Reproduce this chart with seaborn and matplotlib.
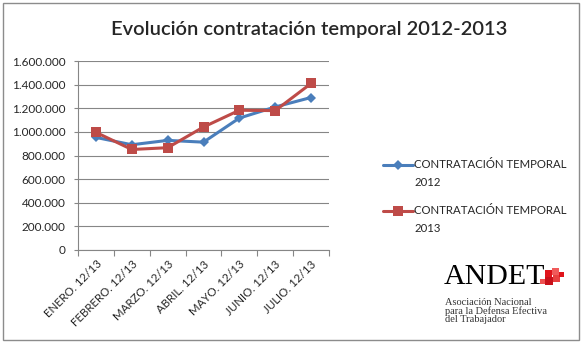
import matplotlib
matplotlib.use("Agg")
import matplotlib.pyplot as plt
import seaborn as sns
import pandas as pd
from matplotlib.patches import Rectangle
from matplotlib.ticker import FuncFormatter, FixedLocator

categories = ["ENERO. 12/13", "FEBRERO. 12/13", "MARZO. 12/13", "ABRIL. 12/13",
              "MAYO. 12/13", "JUNIO. 12/13", "JULIO. 12/13"]
serie_2012 = [953000, 891000, 928000, 913000, 1117000, 1211000, 1291000]
serie_2013 = [996000, 851000, 866000, 1041000, 1183000, 1180000, 1410000]
series_label = "CONTRATACIÓN TEMPORAL"
series_years = ["2012", "2013"]
yticks = [0, 200000, 400000, 600000, 800000, 1000000, 1200000, 1400000, 1600000]

sns.set_theme(style="white")
plt.rcParams["font.family"] = ["Lato", "DejaVu Sans"]

names = [f"{series_label} {y}" for y in series_years]
df = pd.DataFrame({
    "mes": list(range(len(categories))) * 2,
    "valor": serie_2012 + serie_2013,
    "serie": [names[0]] * len(categories) + [names[1]] * len(categories),
})

fig = plt.figure(figsize=(5.84, 3.47), dpi=100)
ax = fig.add_axes([78 / 584, 1 - 250 / 347, (329 - 78) / 584, (250 - 61) / 347])

palette = {names[0]: "#4A7EBB", names[1]: "#BE4B48"}
markers = {names[0]: "D", names[1]: "s"}
sns.lineplot(data=df, x="mes", y="valor", hue="serie", style="serie",
             palette=palette, markers=markers, dashes=False, linewidth=2.2,
             markersize=6.5, markeredgewidth=0, ax=ax, legend=True)
for line in ax.lines:
    if line.get_marker() == "D":
        line.set_markersize(5)
    else:
        line.set_markersize(7)

ax.set_xlim(-0.5, len(categories) - 0.5)
ax.set_ylim(0, 1600000)
ax.set_yticks(yticks)
ax.yaxis.set_major_formatter(FuncFormatter(lambda v, p: f"{int(v):,}".replace(",", ".")))
ax.set_xticks(range(len(categories)))
ax.set_xticklabels(categories, rotation=45, ha="right", rotation_mode="anchor", fontsize=8.3)
ax.xaxis.set_minor_locator(FixedLocator([i - 0.5 for i in range(len(categories) + 1)]))
ax.tick_params(axis="x", which="major", length=0, pad=6)
ax.tick_params(axis="x", which="minor", length=4, width=0.8, color="#868686", direction="out", bottom=True)
ax.tick_params(axis="y", labelsize=8.5, length=3, width=0.8, color="#868686", left=True, pad=6)
ax.grid(axis="y", color="#868686", linewidth=0.8)
ax.set_axisbelow(True)
for s in ["top", "right"]:
    ax.spines[s].set_visible(False)
for s in ["left", "bottom"]:
    ax.spines[s].set_color("#868686")
    ax.spines[s].set_linewidth(0.8)
ax.set_xlabel("")
ax.set_ylabel("")

handles, labels = ax.get_legend_handles_labels()
ax.get_legend().remove()
for i, (h, yr, ypix) in enumerate(zip(handles, series_years, [165, 211])):
    leg = fig.legend([h], [series_label], loc="center left",
                     bbox_to_anchor=(383 / 584, 1 - ypix / 347),
                     frameon=False, fontsize=8.2, handlelength=2.6,
                     handletextpad=0.15, borderpad=0, borderaxespad=0)
    fig.text(414 / 584, 1 - (ypix + 17) / 347, yr, fontsize=8.2, va="center", ha="left")

fig.suptitle("Evolución contratación temporal 2012-2013", x=0.529, y=1 - 30 / 347,
             va="center", fontsize=14.5, fontweight="semibold")

# figure border
fig.patches.append(Rectangle((3 / 584, 1 - 340 / 347), 576 / 584, 337 / 347,
                             transform=fig.transFigure, fill=False,
                             edgecolor="#8c8c8c", linewidth=1))

# ANDET logo
fig.text(444 / 584, 1 - 277 / 347, "ANDET", family="Liberation Serif", fontsize=21.5,
         va="center", ha="left", color="black")
for (x, y, w, h, c) in [(545, 270, 7, 7, "#e0141b"), (552, 268, 7, 7, "#f05a5a"),
                        (545, 277, 8, 8, "#c8101a"), (553, 275, 7, 7, "#e84040"),
                        (559, 272, 5, 5, "#e0141b"), (540, 279, 5, 5, "#ee5050")]:
    fig.patches.append(Rectangle((x / 584, 1 - (y + h) / 347), w / 584, h / 347,
                                 transform=fig.transFigure, color=c, linewidth=0))
fig.text(445 / 584, 1 - 311 / 347, "Asociación Nacional\npara la Defensa Efectiva\ndel Trabajador",
         family="Liberation Serif", fontsize=7.5, va="center", ha="left",
         linespacing=0.95, color="#333333")

fig.savefig("out.png", dpi=100)
